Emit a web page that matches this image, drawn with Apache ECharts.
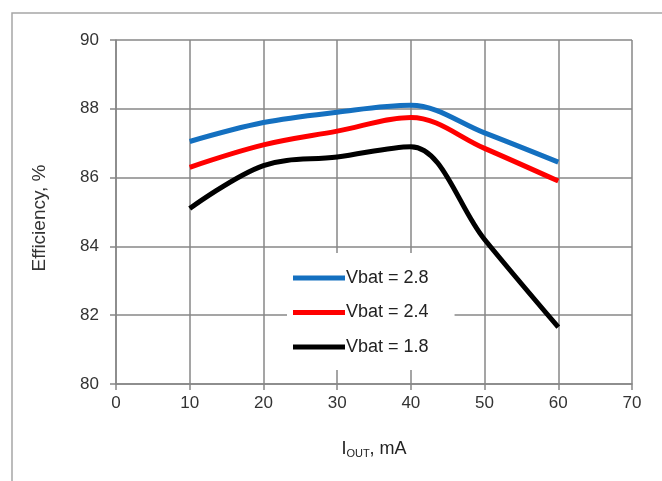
<!DOCTYPE html>
<html>
<head>
<meta charset="utf-8">
<script src="https://cdn.jsdelivr.net/npm/echarts@6/dist/echarts.min.js"></script>
<style>
  html, body { margin: 0; padding: 0; background: #fff; }
  #chartWrap { width: 662px; height: 481px; }
</style>
</head>
<body>
<div id="chartWrap"></div>
<script>
// load current, mA
const iout = [10, 20, 30, 40, 50, 60];
// efficiency, %
const vbat28 = [87.05, 87.6, 87.9, 88.1, 87.3, 86.45];
const vbat24 = [86.3, 86.95, 87.35, 87.75, 86.85, 85.9];
const vbat18 = [85.1, 86.35, 86.6, 86.9, 84.2, 81.65];
const seriesNames = ['Vbat = 2.8', 'Vbat = 2.4', 'Vbat = 1.8'];
const colors = ['#1470c0', '#ff0000', '#000000'];

const gridColor = '#878787';
const font = 'Liberation Sans, Arial, sans-serif';

function pairs(ys) {
    return iout.map(function (x, i) { return [x, ys[i]]; });
}

const myChart = echarts.init(document.getElementById('chartWrap'));

myChart.setOption({
    animation: false,
    color: colors,
    textStyle: { fontFamily: font },
    graphic: [
        {
            type: 'rect',
            shape: { x: 12, y: 13, width: 700, height: 600 },
            style: { fill: 'none', stroke: '#a6a6a6', lineWidth: 1.5 },
            silent: true
        },
        {
            // y axis title, reads bottom to top
            type: 'text',
            x: 40, y: 218,
            rotation: Math.PI / 2,
            style: {
                text: 'Efficiency, %',
                fill: '#333', font: '19px ' + font,
                align: 'center', verticalAlign: 'middle'
            }
        }
    ],
    grid: { left: 116, right: 30, top: 40, bottom: 97 },
    legend: {
        data: seriesNames,
        orient: 'vertical',
        left: 287,
        top: 253,
        padding: [16, 26, 14, 6],
        backgroundColor: '#fff',
        icon: 'rect',
        itemWidth: 52,
        itemHeight: 5,
        itemGap: 16.5,
        textStyle: { fontSize: 18, color: '#222', lineHeight: 18, padding: [0, 0, 0, -4] }
    },
    xAxis: {
        type: 'value',
        min: 0, max: 70, interval: 10,
        name: '{i|I}{s|OUT}{i|, mA}',
        nameLocation: 'middle',
        nameGap: 55,
        nameTextStyle: {
            rich: {
                i: { fontSize: 18, color: '#222', fontFamily: font },
                s: { fontSize: 11, color: '#222', fontFamily: font, padding: [9, 0, 0, 0] }
            }
        },
        axisLine: { show: true, lineStyle: { color: gridColor, width: 1.5 } },
        axisTick: { show: true, length: 6, lineStyle: { color: gridColor, width: 1.5 } },
        axisLabel: { fontSize: 17, color: '#333', margin: 11 },
        splitLine: { show: true, lineStyle: { color: gridColor, width: 1.5 } }
    },
    yAxis: {
        type: 'value',
        min: 80, max: 90, interval: 2,
        axisLine: { show: true, lineStyle: { color: gridColor, width: 1.5 } },
        axisTick: { show: true, length: 6, lineStyle: { color: gridColor, width: 1.5 } },
        axisLabel: { fontSize: 17, color: '#333', margin: 17 },
        splitLine: { show: true, lineStyle: { color: gridColor, width: 1.5 } }
    },
    series: [
        {
            name: seriesNames[0], type: 'line', smooth: 0.35,
            showSymbol: false, lineStyle: { width: 5 }, data: pairs(vbat28)
        },
        {
            name: seriesNames[1], type: 'line', smooth: 0.35,
            showSymbol: false, lineStyle: { width: 5 }, data: pairs(vbat24)
        },
        {
            name: seriesNames[2], type: 'line', smooth: 0.35,
            showSymbol: false, lineStyle: { width: 5 }, data: pairs(vbat18)
        }
    ]
});
</script>
</body>
</html>
